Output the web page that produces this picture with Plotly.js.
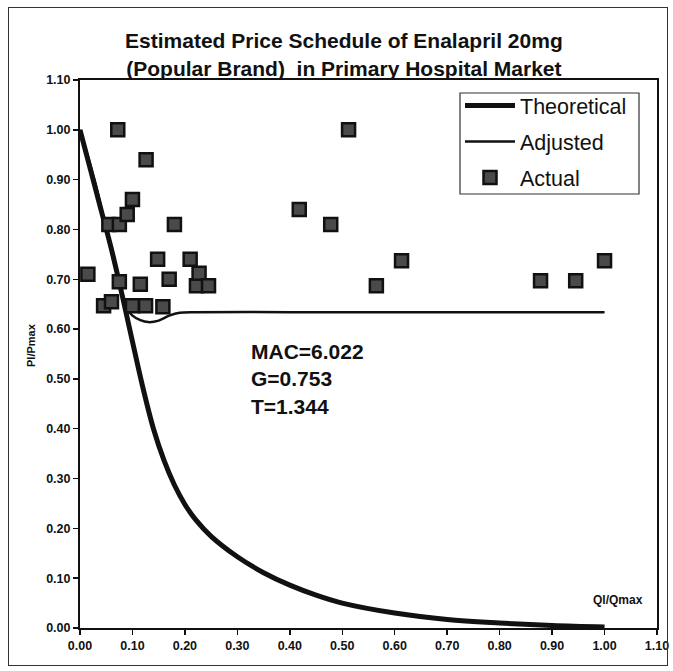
<!DOCTYPE html>
<html>
<head>
<meta charset="utf-8">
<script src="https://cdn.plot.ly/plotly-3.0.1.min.js"></script>
<style>
  html, body { margin: 0; padding: 0; background: #fff; }
  #wrap { position: relative; width: 673px; height: 671px; }
  #chart { position: absolute; left: 0; top: 0; width: 673px; height: 671px; }
  #frame { position: absolute; left: 8px; top: 7px; width: 658px; height: 657px;
           border: 1.5px solid #333; pointer-events: none; }
</style>
</head>
<body>
<div id="wrap">
  <div id="chart"></div>
  <div id="frame"></div>
</div>
<script>
// Theoretical price schedule (Pi/Pmax against Qi/Qmax)
const theoQ = [0, 0.02, 0.04, 0.06, 0.08, 0.10, 0.12, 0.14, 0.16, 0.18, 0.20, 0.22, 0.25, 0.30, 0.35, 0.40, 0.45, 0.50, 0.60, 0.70, 0.80, 0.90, 1.00];
const theoP = [1.00, 0.92, 0.84, 0.76, 0.67, 0.575, 0.482, 0.40, 0.337, 0.287, 0.248, 0.218, 0.184, 0.143, 0.111, 0.086, 0.066, 0.05, 0.03, 0.017, 0.010, 0.005, 0.002];

// Adjusted schedule
const adjQ = [0, 0.03, 0.05, 0.07, 0.08, 0.09, 0.10, 0.115, 0.13, 0.15, 0.17, 0.19, 0.22, 0.40, 0.70, 1.00];
const adjP = [1.00, 0.89, 0.80, 0.71, 0.67, 0.64, 0.627, 0.618, 0.614, 0.617, 0.627, 0.633, 0.634, 0.634, 0.634, 0.634];

// Observed prices
const actualQ = [0.015, 0.045, 0.06, 0.055, 0.072, 0.075, 0.075, 0.09, 0.10, 0.10, 0.115, 0.125, 0.126, 0.148, 0.158, 0.17, 0.18, 0.21, 0.222, 0.227, 0.245, 0.418, 0.478, 0.512, 0.565, 0.613, 0.878, 0.945, 1.00];
const actualP = [0.71, 0.647, 0.655, 0.81, 1.00, 0.81, 0.695, 0.83, 0.86, 0.647, 0.69, 0.647, 0.94, 0.74, 0.645, 0.70, 0.81, 0.74, 0.687, 0.712, 0.687, 0.84, 0.81, 1.00, 0.687, 0.737, 0.697, 0.697, 0.737];

const tickVals = [0, 0.1, 0.2, 0.3, 0.4, 0.5, 0.6, 0.7, 0.8, 0.9, 1.0, 1.1];
const tickText = ['0.00', '0.10', '0.20', '0.30', '0.40', '0.50', '0.60', '0.70', '0.80', '0.90', '1.00', '1.10'];

const FONT = 'Arial, "Liberation Sans", sans-serif';

// plot area in pixels: x 80..657, y 80..628
const PW = 577, PH = 548;
const px = v => (v - 80) / PW;
const py = v => (628 - v) / PH;

const traces = [
  {
    x: theoQ, y: theoP, name: 'Theoretical', type: 'scatter', mode: 'lines',
    line: { color: '#111', width: 5, shape: 'spline', smoothing: 1 },
    legendgroup: 'a'
  },
  {
    x: adjQ, y: adjP, name: 'Adjusted', type: 'scatter', mode: 'lines',
    line: { color: '#111', width: 2.5, shape: 'spline', smoothing: 0.8 },
    legendgroup: 'b'
  },
  {
    x: actualQ, y: actualP, name: 'Actual', type: 'scatter', mode: 'markers',
    marker: { symbol: 'square', size: 13, color: '#4a4a4a', line: { color: '#111', width: 2.5 } },
    legendgroup: 'c'
  }
];

const axisCommon = {
  range: [0, 1.1],
  tickvals: tickVals,
  ticktext: tickText,
  ticks: 'outside',
  ticklen: 5,
  tickwidth: 1.5,
  tickcolor: '#111',
  showline: true,
  linecolor: '#111',
  linewidth: 2,
  mirror: true,
  showgrid: false,
  zeroline: false,
  tickfont: { family: FONT, size: 12.5, color: '#111', weight: 'bold' }
};

const layout = {
  width: 673, height: 671,
  margin: { l: 80, r: 16, t: 80, b: 43 },
  paper_bgcolor: '#fff',
  plot_bgcolor: '#fff',
  font: { family: FONT, color: '#111' },
  title: {
    text: '<b>Estimated Price Schedule of Enalapril 20mg<br>(Popular Brand)  in Primary Hospital Market</b>',
    font: { family: FONT, size: 21, color: '#111' },
    x: 0.511, xanchor: 'center',
    y: 0.928, yanchor: 'top'
  },
  xaxis: Object.assign({}, axisCommon),
  yaxis: Object.assign({}, axisCommon),
  showlegend: true,
  legend: {
    x: px(460), y: py(85), xanchor: 'left', yanchor: 'top',
    bgcolor: 'rgba(0,0,0,0)',
    borderwidth: 0,
    font: { family: FONT, size: 21.5, color: '#111' },
    traceorder: 'grouped',
    tracegroupgap: 5,
    itemwidth: 50
  },
  shapes: [
    // legend frame
    {
      type: 'rect', xref: 'paper', yref: 'paper', layer: 'above',
      x0: px(460), x1: px(639), y0: py(93), y1: py(194),
      line: { color: '#333', width: 1.2 }, fillcolor: 'rgba(0,0,0,0)'
    }
  ],
  annotations: [
    {
      xref: 'paper', yref: 'paper',
      x: px(31), y: py(345),
      xanchor: 'center', yanchor: 'middle', textangle: -90,
      text: '<b>Pl/Pmax</b>', showarrow: false,
      font: { family: FONT, size: 11, color: '#111' }
    },
    {
      xref: 'paper', yref: 'paper',
      x: px(618), y: py(600),
      xanchor: 'center', yanchor: 'middle',
      text: '<b>Ql/Qmax</b>', showarrow: false,
      font: { family: FONT, size: 12, color: '#111' }
    },
    {
      xref: 'x', yref: 'y',
      x: 0.323, y: 0.583,
      xanchor: 'left', yanchor: 'top', align: 'left',
      text: '<b>MAC=6.022<br>G=0.753<br>T=1.344</b>', showarrow: false,
      font: { family: FONT, size: 21, color: '#111' }
    }
  ]
};

Plotly.newPlot('chart', traces, layout, { displayModeBar: false, staticPlot: true });
</script>
</body>
</html>
